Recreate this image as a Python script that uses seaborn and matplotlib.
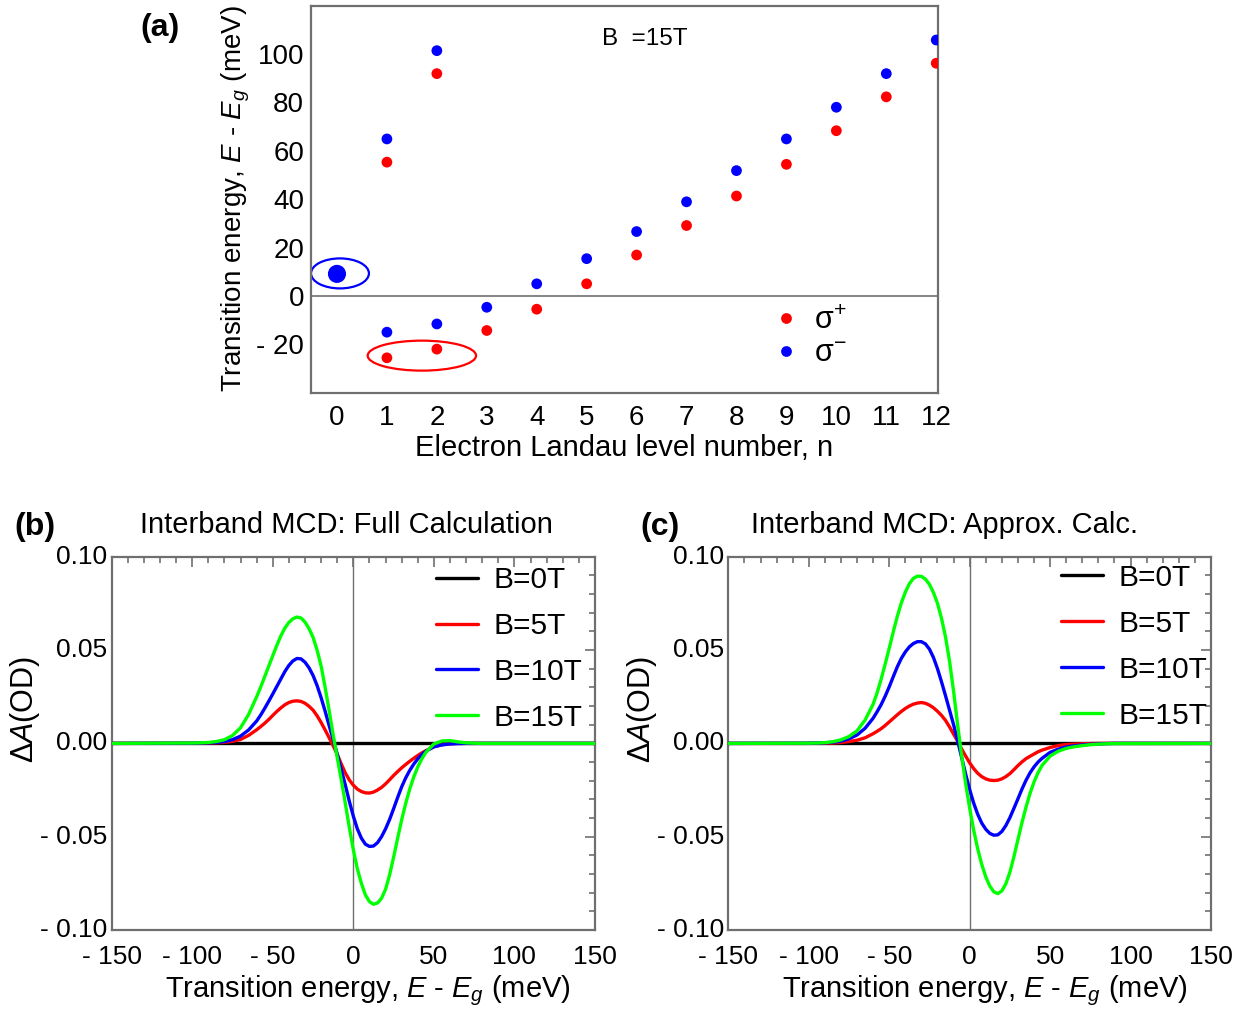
import matplotlib
matplotlib.use("Agg")
import pandas as pd
import matplotlib.pyplot as plt
from matplotlib.patches import Ellipse
from matplotlib.ticker import MultipleLocator
import seaborn as sns

# ---------------- panel (a): transition energies at B = 15 T ----------------
N_UPPER = [1, 2]
SIGP_UPPER = [55.3, 91.9]
SIGM_UPPER = [64.9, 101.4]
N_LOWER = [1, 2, 3, 4, 5, 6, 7, 8, 9, 10, 11, 12]
SIGP_LOWER = [-25.6, -22.0, -14.3, -5.5, 5.0, 16.9, 29.1, 41.3, 54.4, 68.3, 82.3, 96.2]
SIGM_LOWER = [-15.0, -11.6, -4.7, 5.0, 15.4, 26.6, 38.9, 51.8, 64.9, 78.0, 91.9, 105.8]
N_ZERO = [0]
SIGM_ZERO = [9.1]

A_XTICKS = [0, 1, 2, 3, 4, 5, 6, 7, 8, 9, 10, 11, 12]
A_YTICKS = [-20, 0, 20, 40, 60, 80, 100]
A_YLABELS = ["- 20", "0", "20", "40", "60", "80", "100"]

# ellipses marking the special transitions: (centre n, centre E, width, height)
BLUE_RING = (0.06, 9.3, 1.16, 12.4)
RED_RING = (1.70, -24.7, 2.17, 12.4)

# ---------------- panels (b), (c): interband MCD spectra ----------------
ENERGY = [-150, -100, -95, -90, -85, -80, -75, -70, -65, -60,
          -57.5, -55, -52.5, -50, -47.5, -45, -42.5, -40, -37.5, -35,
          -32.5, -30, -27.5, -25, -22.5, -20, -17.5, -15, -12.5, -10,
          -7.5, -5, -2.5, 0, 2.5, 5, 7.5, 10, 12.5, 15,
          17.5, 20, 22.5, 25, 27.5, 30, 32.5, 35, 37.5, 40,
          42.5, 45, 50, 55, 60, 65, 70, 75, 80, 85, 90, 150]

ZERO_E = [-150, 150]
ZERO_DA = [0.0, 0.0]

FULL_5T = [0, 0.0001, 0.0001, 0.0002, 0.0003, 0.0006, 0.0011, 0.0021, 0.0043, 0.0073,
           0.0090, 0.0108, 0.0128, 0.0150, 0.0171, 0.0190, 0.0207, 0.0219, 0.0226, 0.0228,
           0.0225, 0.0215, 0.0199, 0.0178, 0.0148, 0.0112, 0.0072, 0.0030, -0.0013, -0.0058,
           -0.0110, -0.0158, -0.0196, -0.0224, -0.0245, -0.0258, -0.0265, -0.0266, -0.0261, -0.0250,
           -0.0236, -0.0217, -0.0195, -0.0172, -0.0151, -0.0131, -0.0113, -0.0096, -0.0080, -0.0065,
           -0.0051, -0.0039, -0.0018, -0.0007, -0.0002, 0, 0, 0, 0, 0, 0, 0]
FULL_10T = [0, 0.0001, 0.0002, 0.0003, 0.0005, 0.0010, 0.0020, 0.0039, 0.0072, 0.0120,
            0.0152, 0.0188, 0.0226, 0.0265, 0.0305, 0.0345, 0.0385, 0.0418, 0.0442, 0.0455,
            0.0453, 0.0435, 0.0405, 0.0364, 0.0310, 0.0245, 0.0172, 0.0095, 0.0020, -0.0058,
            -0.0140, -0.0222, -0.0310, -0.0390, -0.0458, -0.0508, -0.0540, -0.0552, -0.0550, -0.0532,
            -0.0500, -0.0458, -0.0408, -0.0350, -0.0290, -0.0233, -0.0185, -0.0145, -0.0111, -0.0083,
            -0.0060, -0.0042, -0.0018, -0.0008, -0.0003, -0.0001, 0, 0, 0, 0, 0, 0]
FULL_15T = [0, 0.0002, 0.0003, 0.0005, 0.0010, 0.0020, 0.0042, 0.0084, 0.0155, 0.0250,
            0.0302, 0.0358, 0.0414, 0.0470, 0.0525, 0.0576, 0.0618, 0.0648, 0.0668, 0.0677,
            0.0672, 0.0650, 0.0615, 0.0568, 0.0500, 0.0415, 0.0300, 0.0175, 0.0045, -0.0075,
            -0.0195, -0.0320, -0.0450, -0.0570, -0.0672, -0.0750, -0.0812, -0.0848, -0.0862, -0.0855,
            -0.0830, -0.0782, -0.0705, -0.0610, -0.0508, -0.0410, -0.0322, -0.0245, -0.0180, -0.0126,
            -0.0083, -0.0048, -0.0003, 0.0013, 0.0015, 0.0008, 0.0003, 0.0001, 0, 0, 0, 0]

APPROX_5T = [0, 0, 0.0001, 0.0001, 0.0002, 0.0005, 0.0010, 0.0017, 0.0030, 0.0052,
             0.0065, 0.0079, 0.0096, 0.0115, 0.0134, 0.0153, 0.0171, 0.0187, 0.0200, 0.0210,
             0.0216, 0.0219, 0.0215, 0.0205, 0.0191, 0.0172, 0.0150, 0.0123, 0.0088, 0.0050,
             0.0012, -0.0030, -0.0068, -0.0104, -0.0135, -0.0160, -0.0178, -0.0190, -0.0197, -0.0199,
             -0.0197, -0.0190, -0.0178, -0.0162, -0.0141, -0.0119, -0.0099, -0.0082, -0.0069, -0.0057,
             -0.0045, -0.0036, -0.0022, -0.0012, -0.0006, -0.0004, -0.0002, -0.0001, 0, 0, 0, 0]
APPROX_10T = [0, 0.0001, 0.0002, 0.0003, 0.0006, 0.0012, 0.0025, 0.0045, 0.0081, 0.0135,
              0.0170, 0.0208, 0.0253, 0.0303, 0.0357, 0.0410, 0.0455, 0.0490, 0.0517, 0.0535,
              0.0545, 0.0545, 0.0533, 0.0505, 0.0460, 0.0400, 0.0330, 0.0255, 0.0178, 0.0100,
              0.0015, -0.0075, -0.0165, -0.0248, -0.0320, -0.0380, -0.0427, -0.0460, -0.0482, -0.0492,
              -0.0490, -0.0472, -0.0440, -0.0398, -0.0348, -0.0297, -0.0245, -0.0198, -0.0158, -0.0126,
              -0.0100, -0.0080, -0.0048, -0.0031, -0.0019, -0.0013, -0.0008, -0.0005, -0.0003, -0.0001, 0, 0]
APPROX_15T = [0, 0.0001, 0.0002, 0.0004, 0.0009, 0.0019, 0.0037, 0.0067, 0.0125, 0.0210,
              0.0272, 0.0345, 0.0425, 0.0510, 0.0597, 0.0680, 0.0752, 0.0810, 0.0855, 0.0884,
              0.0896, 0.0895, 0.0880, 0.0852, 0.0808, 0.0750, 0.0670, 0.0570, 0.0440, 0.0280,
              0.0100, -0.0065, -0.0215, -0.0347, -0.0465, -0.0565, -0.0648, -0.0715, -0.0764, -0.0795,
              -0.0805, -0.0790, -0.0752, -0.0690, -0.0607, -0.0515, -0.0425, -0.0342, -0.0268, -0.0207,
              -0.0157, -0.0118, -0.0068, -0.0042, -0.0027, -0.0018, -0.0012, -0.0007, -0.0004, -0.0002, -0.0001, 0]

FIELDS = ["B=0T", "B=5T", "B=10T", "B=15T"]
FIELD_COLORS = {"B=0T": "black", "B=5T": "#ff0000", "B=10T": "#0000ff", "B=15T": "#00ff00"}

MCD_XTICKS = [-150, -100, -50, 0, 50, 100, 150]
MCD_XLABELS = ["- 150", "- 100", "- 50", "0", "50", "100", "150"]
MCD_YTICKS = [-0.10, -0.05, 0.0, 0.05, 0.10]
MCD_YLABELS = ["- 0.10", "- 0.05", "0.00", "0.05", "0.10"]

# ---------------- style ----------------
sns.set_style("white")
plt.rcParams["font.family"] = ["Liberation Sans", "DejaVu Sans"]
plt.rcParams["mathtext.fontset"] = "custom"
plt.rcParams["mathtext.rm"] = "Liberation Sans"
plt.rcParams["mathtext.it"] = "Liberation Sans:italic"
plt.rcParams["mathtext.bf"] = "Liberation Sans:bold"
plt.rcParams["text.color"] = "black"
plt.rcParams["axes.labelcolor"] = "black"
plt.rcParams["xtick.labelcolor"] = "black"
plt.rcParams["ytick.labelcolor"] = "black"
SPINE = "#6f6f6f"


def frame(ax):
    for sp in ax.spines.values():
        sp.set_color(SPINE)
        sp.set_linewidth(1.6)


fig = plt.figure(figsize=(12.45, 10.13), dpi=100)

# ---------------- (a) ----------------
ax_a = fig.add_axes([0.2498, 0.6124, 0.5034, 0.3820])
df_a = pd.concat([
    pd.DataFrame({"n": N_LOWER + N_UPPER, "E": SIGP_LOWER + SIGP_UPPER, "pol": "σ$^{+}$"}),
    pd.DataFrame({"n": N_LOWER + N_UPPER, "E": SIGM_LOWER + SIGM_UPPER, "pol": "σ$^{-}$"}),
])
ax_a.axhline(0, color=SPINE, lw=1.2, zorder=1)
sns.scatterplot(data=df_a, x="n", y="E", hue="pol",
                palette={"σ$^{+}$": "#ff0000", "σ$^{-}$": "#0000ff"},
                s=60, edgecolor="none", ax=ax_a, zorder=3)
sns.scatterplot(x=N_ZERO, y=SIGM_ZERO, color="#0000ff", s=170, edgecolor="none",
                ax=ax_a, legend=False, zorder=3)
for (cx, cy, w, h), col in [(BLUE_RING, "#0000ff"), (RED_RING, "#ff0000")]:
    ax_a.add_patch(Ellipse((cx, cy), w, h, fill=False, edgecolor=col, lw=1.6, zorder=2))

ax_a.set_xlim(-0.52, 12.03)
ax_a.set_ylim(-40, 120)
ax_a.set_xticks(A_XTICKS)
ax_a.set_yticks(A_YTICKS, A_YLABELS)
ax_a.tick_params(direction="in", length=8, width=1.3, color=SPINE, labelsize=20,
                 top=False, right=False)
ax_a.tick_params(axis="x", pad=9)
ax_a.tick_params(axis="y", pad=5)
frame(ax_a)
ax_a.set_xlabel("Electron Landau level number, n", fontsize=21, labelpad=2)
ax_a.set_ylabel("Transition energy, $E$ - $E_g$ (meV)", fontsize=20, labelpad=3)
ax_a.text(0.533, 0.915, "B  =15T", transform=ax_a.transAxes, ha="center", va="center",
          fontsize=17.5)
ax_a.legend(loc="upper left", bbox_to_anchor=(0.734, 0.224), frameon=False,
            fontsize=22, handlelength=1.0, handletextpad=0.4, labelspacing=0.1,
            borderpad=0, borderaxespad=0)
fig.text(0.1285, 0.972, "(a)", fontsize=23, fontweight="bold", ha="center", va="center")


# ---------------- (b), (c) ----------------
def mcd_panel(ax, c5, c10, c15, title, title_x, leg_xy):
    df = pd.concat([
        pd.DataFrame({"E": ZERO_E, "dA": ZERO_DA, "B": "B=0T"}),
        pd.DataFrame({"E": ENERGY, "dA": c5, "B": "B=5T"}),
        pd.DataFrame({"E": ENERGY, "dA": c10, "B": "B=10T"}),
        pd.DataFrame({"E": ENERGY, "dA": c15, "B": "B=15T"}),
    ])
    ax.axvline(0, color=SPINE, lw=1.0, zorder=1)
    sns.lineplot(data=df, x="E", y="dA", hue="B", hue_order=FIELDS, palette=FIELD_COLORS,
                 linewidth=2.4, estimator=None, ax=ax, zorder=3)
    for ln in ax.get_lines():
        ln.set_solid_joinstyle("round")
    ax.set_xlim(-150, 150)
    ax.set_ylim(-0.10, 0.10)
    ax.set_xticks(MCD_XTICKS, MCD_XLABELS, fontsize=19)
    ax.set_yticks(MCD_YTICKS, MCD_YLABELS, fontsize=19, va="center")
    ax.xaxis.set_minor_locator(MultipleLocator(10))
    ax.yaxis.set_minor_locator(MultipleLocator(0.01))
    ax.tick_params(which="both", direction="in", top=True, right=True, color=SPINE, width=1.2)
    ax.tick_params(which="major", length=7)
    ax.tick_params(which="minor", length=4)
    ax.tick_params(axis="x", pad=11)
    ax.tick_params(axis="y", pad=3)
    frame(ax)
    ax.set_xlabel("Transition energy, $E$ - $E_g$ (meV)", fontsize=21, labelpad=3, x=0.531)
    ax.set_ylabel("Δ$A$(OD)", fontsize=22)
    ax.yaxis.set_label_coords(-0.144, 0.59)
    ax.set_title(title, fontsize=21, pad=17, x=title_x)
    ax.legend(loc="upper left", bbox_to_anchor=leg_xy, frameon=False, fontsize=21.5,
              handlelength=1.4, handletextpad=0.5, labelspacing=0.6, borderpad=0,
              borderaxespad=0)


ax_b = fig.add_axes([0.0897, 0.0819, 0.3882, 0.3685])
mcd_panel(ax_b, FULL_5T, FULL_10T, FULL_15T, "Interband MCD: Full Calculation",
          0.485, (0.672, 0.975))
ax_c = fig.add_axes([0.5850, 0.0819, 0.3877, 0.3685])
mcd_panel(ax_c, APPROX_5T, APPROX_10T, APPROX_15T, "Interband MCD: Approx. Calc.",
          0.447, (0.690, 0.981))

fig.text(0.028, 0.480, "(b)", fontsize=23, fontweight="bold", ha="center", va="center")
fig.text(0.530, 0.480, "(c)", fontsize=23, fontweight="bold", ha="center", va="center")

fig.savefig("out.png", dpi=100)
